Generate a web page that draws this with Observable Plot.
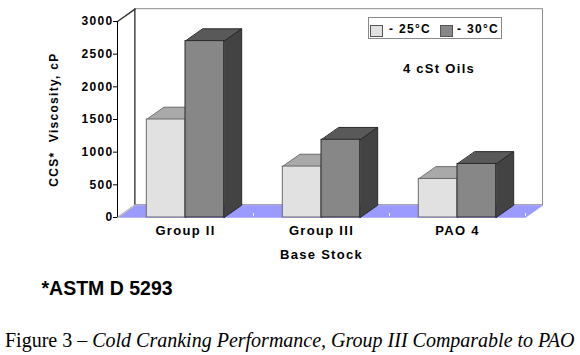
<!DOCTYPE html>
<html>
<head>
<meta charset="utf-8">
<script src="https://cdn.jsdelivr.net/npm/d3@7"></script>
<script src="https://cdn.jsdelivr.net/npm/@observablehq/plot@0.6"></script>
<style>
  html, body { margin: 0; padding: 0; background: #fff; }
  #wrap { position: relative; width: 580px; height: 355px; overflow: hidden; }
  #chart { position: absolute; left: 0; top: 0; }
  .legend { position: absolute; left: 368px; top: 17px; width: 134px; height: 22px;
            border: 1px solid #8a8a8a; background: #fff; box-sizing: border-box;
            font: bold 12px "Liberation Sans", Arial, sans-serif; letter-spacing: 1.3px; color: #000; }
  .legend .sw { position: absolute; top: 7px; width: 11px; height: 10px; border: 1px solid #555; box-sizing: content-box; }
  .legend .lab { position: absolute; top: 5px; line-height: 12px; white-space: nowrap; }
  .note { position: absolute; left: 389px; top: 62px; width: 100px; text-align: center;
          font: bold 13px/13px "Liberation Sans", Arial, sans-serif; letter-spacing: 1.3px; }
  .astm { position: absolute; left: 41.5px; top: 279px; font: bold 19.5px/19.5px "Liberation Sans", Arial, sans-serif; white-space: nowrap; }
  .caption { position: absolute; left: 5px; top: 330px; font: 20px/20px "Liberation Serif", "Times New Roman", serif; white-space: nowrap; }
  .caption i { font-style: italic; }
</style>
</head>
<body>
<div id="wrap">
  <div id="chart"></div>
</div>
<script>
// ---- data ----
const categories = ["Group II", "Group III", "PAO 4"];
const seriesNames = ["- 25°C", "- 30°C"];
const visc25 = [1500, 780, 590];
const visc30 = [2700, 1190, 820];
const yTicks = [0, 500, 1000, 1500, 2000, 2500, 3000];
const yTitle = "CCS*  Viscosity, cP";
const xTitle = "Base Stock";
const note = "4 cSt Oils";
const footnote = "*ASTM D 5293";
const captionLead = "Figure 3 – ";
const captionItalic = "Cold Cranking Performance, Group III Comparable to PAO";

// ---- styles ----
const frontFill = ["#e1e1e1", "#878787"];
const topFill = ["#a9a9a9", "#595959"];
const sideFill = ["#707070", "#434343"];
const edgeStroke = ["#6a6a6a", "#2a2a2a"];

// ---- layout ----
const W = 580, H = 270;
const mL = 117, mR = 55, mT = 21, mB = 53;
const yMax = 3000;
const nCat = categories.length;
const kx = (W - mL - mR) / nCat;         // px per category unit
const ky = (H - mT - mB) / yMax;         // px per value unit
const dX = 17.5 / kx, dY = 12.3 / ky;     // depth in data units
const barW = 38.7 / kx;

const seriesValues = [visc25, visc30];
const bars = [];
seriesValues.forEach((vals, j) => {
  vals.forEach((v, i) => {
    const x0 = i + 0.5 - barW + j * barW;
    bars.push({series: j, cat: categories[i], v, x0, x1: x0 + barW});
  });
});

function poly(id, pts) { return pts.map(([x, y]) => ({id, x, y})); }

const marks = [];
// back wall
marks.push(Plot.rect([0], {x1: dX, x2: nCat + dX, y1: dY, y2: yMax + dY, fill: "#fff", stroke: "#8c8c8c"}));
// floor
marks.push(Plot.line(poly("floor", [[0, 0], [nCat, 0], [nCat + dX, dY], [dX, dY]]),
  {x: "x", y: "y", z: "id", fill: "#9b9bff", stroke: "#9b9bff", strokeWidth: 0.5, curve: "linear-closed"}));
marks.push(Plot.ruleX([dX], {y1: dY, y2: yMax + dY, stroke: "#222"}));
marks.push(Plot.line([{x: 0, y: yMax}, {x: dX, y: yMax + dY}], {x: "x", y: "y", stroke: "#333"}));
marks.push(Plot.line([{x: 0, y: 0}, {x: dX, y: dY}], {x: "x", y: "y", stroke: "#bbb"}));
// small floor ticks
marks.push(Plot.ruleX(d3.range(nCat + 1), {y1: 1 / ky, y2: 4 / ky, stroke: "#fff"}));
// bars, series by series
[0, 1].forEach(j => {
  const bs = bars.filter(b => b.series === j);
  const tops = bs.flatMap(b => poly(b.cat + "t", [[b.x0, b.v], [b.x1, b.v], [b.x1 + dX, b.v + dY], [b.x0 + dX, b.v + dY]]));
  const sides = bs.flatMap(b => poly(b.cat + "s", [[b.x1, 0], [b.x1 + dX, dY], [b.x1 + dX, b.v + dY], [b.x1, b.v]]));
  marks.push(Plot.line(tops, {x: "x", y: "y", z: "id", fill: topFill[j], stroke: edgeStroke[j], strokeWidth: 1, curve: "linear-closed"}));
  marks.push(Plot.line(sides, {x: "x", y: "y", z: "id", fill: sideFill[j], stroke: edgeStroke[j], strokeWidth: 1, curve: "linear-closed"}));
  marks.push(Plot.rect(bs, {x1: "x0", x2: "x1", y1: 0, y2: "v", fill: frontFill[j], stroke: edgeStroke[j], strokeWidth: 1}));
});
// y axis line
marks.push(Plot.ruleX([0], {y1: 0, y2: yMax, stroke: "#000"}));
marks.push(Plot.axisY({ticks: yTicks, tickSize: 4, tickPadding: 0, tickFormat: d => String(d), label: null,
  fontSize: 12, fontWeight: "bold"}));
// category labels
marks.push(Plot.text(categories, {x: (d, i) => i + 0.5, y: 0, dy: 13.5, text: d => d, fontSize: 13, fontWeight: "bold"}));
// axis titles
marks.push(Plot.text([xTitle], {frameAnchor: "bottom", dy: 41, text: d => d, fontSize: 13, fontWeight: "bold"}));
marks.push(Plot.text([yTitle], {frameAnchor: "left", textAnchor: "middle", dx: -63, rotate: -90, text: d => d, fontSize: 12, fontWeight: "bold"}));

const chart = Plot.plot({
  width: W, height: H,
  marginLeft: mL, marginRight: mR, marginTop: mT, marginBottom: mB,
  x: {domain: [0, nCat], axis: null},
  y: {domain: [0, yMax], axis: null},
  style: {fontFamily: "'Liberation Sans', Arial, sans-serif", letterSpacing: "1.3px", color: "#000", background: "transparent", overflow: "visible"},
  marks
});
document.getElementById("chart").appendChild(chart);

// legend
const wrap = document.getElementById("wrap");
const legend = document.createElement("div");
legend.className = "legend";
const swX = [1, 71], labX = [20, 88];
seriesNames.forEach((s, j) => {
  const sw = document.createElement("span");
  sw.className = "sw"; sw.style.left = swX[j] + "px"; sw.style.background = frontFill[j];
  const lab = document.createElement("span");
  lab.className = "lab"; lab.style.left = labX[j] + "px"; lab.textContent = s;
  legend.appendChild(sw); legend.appendChild(lab);
});
wrap.appendChild(legend);

const n = document.createElement("div"); n.className = "note"; n.textContent = note; wrap.appendChild(n);
const a = document.createElement("div"); a.className = "astm"; a.textContent = footnote; wrap.appendChild(a);
const c = document.createElement("div"); c.className = "caption";
c.appendChild(document.createTextNode(captionLead));
const it = document.createElement("i"); it.textContent = captionItalic; c.appendChild(it);
wrap.appendChild(c);
</script>
</body>
</html>
